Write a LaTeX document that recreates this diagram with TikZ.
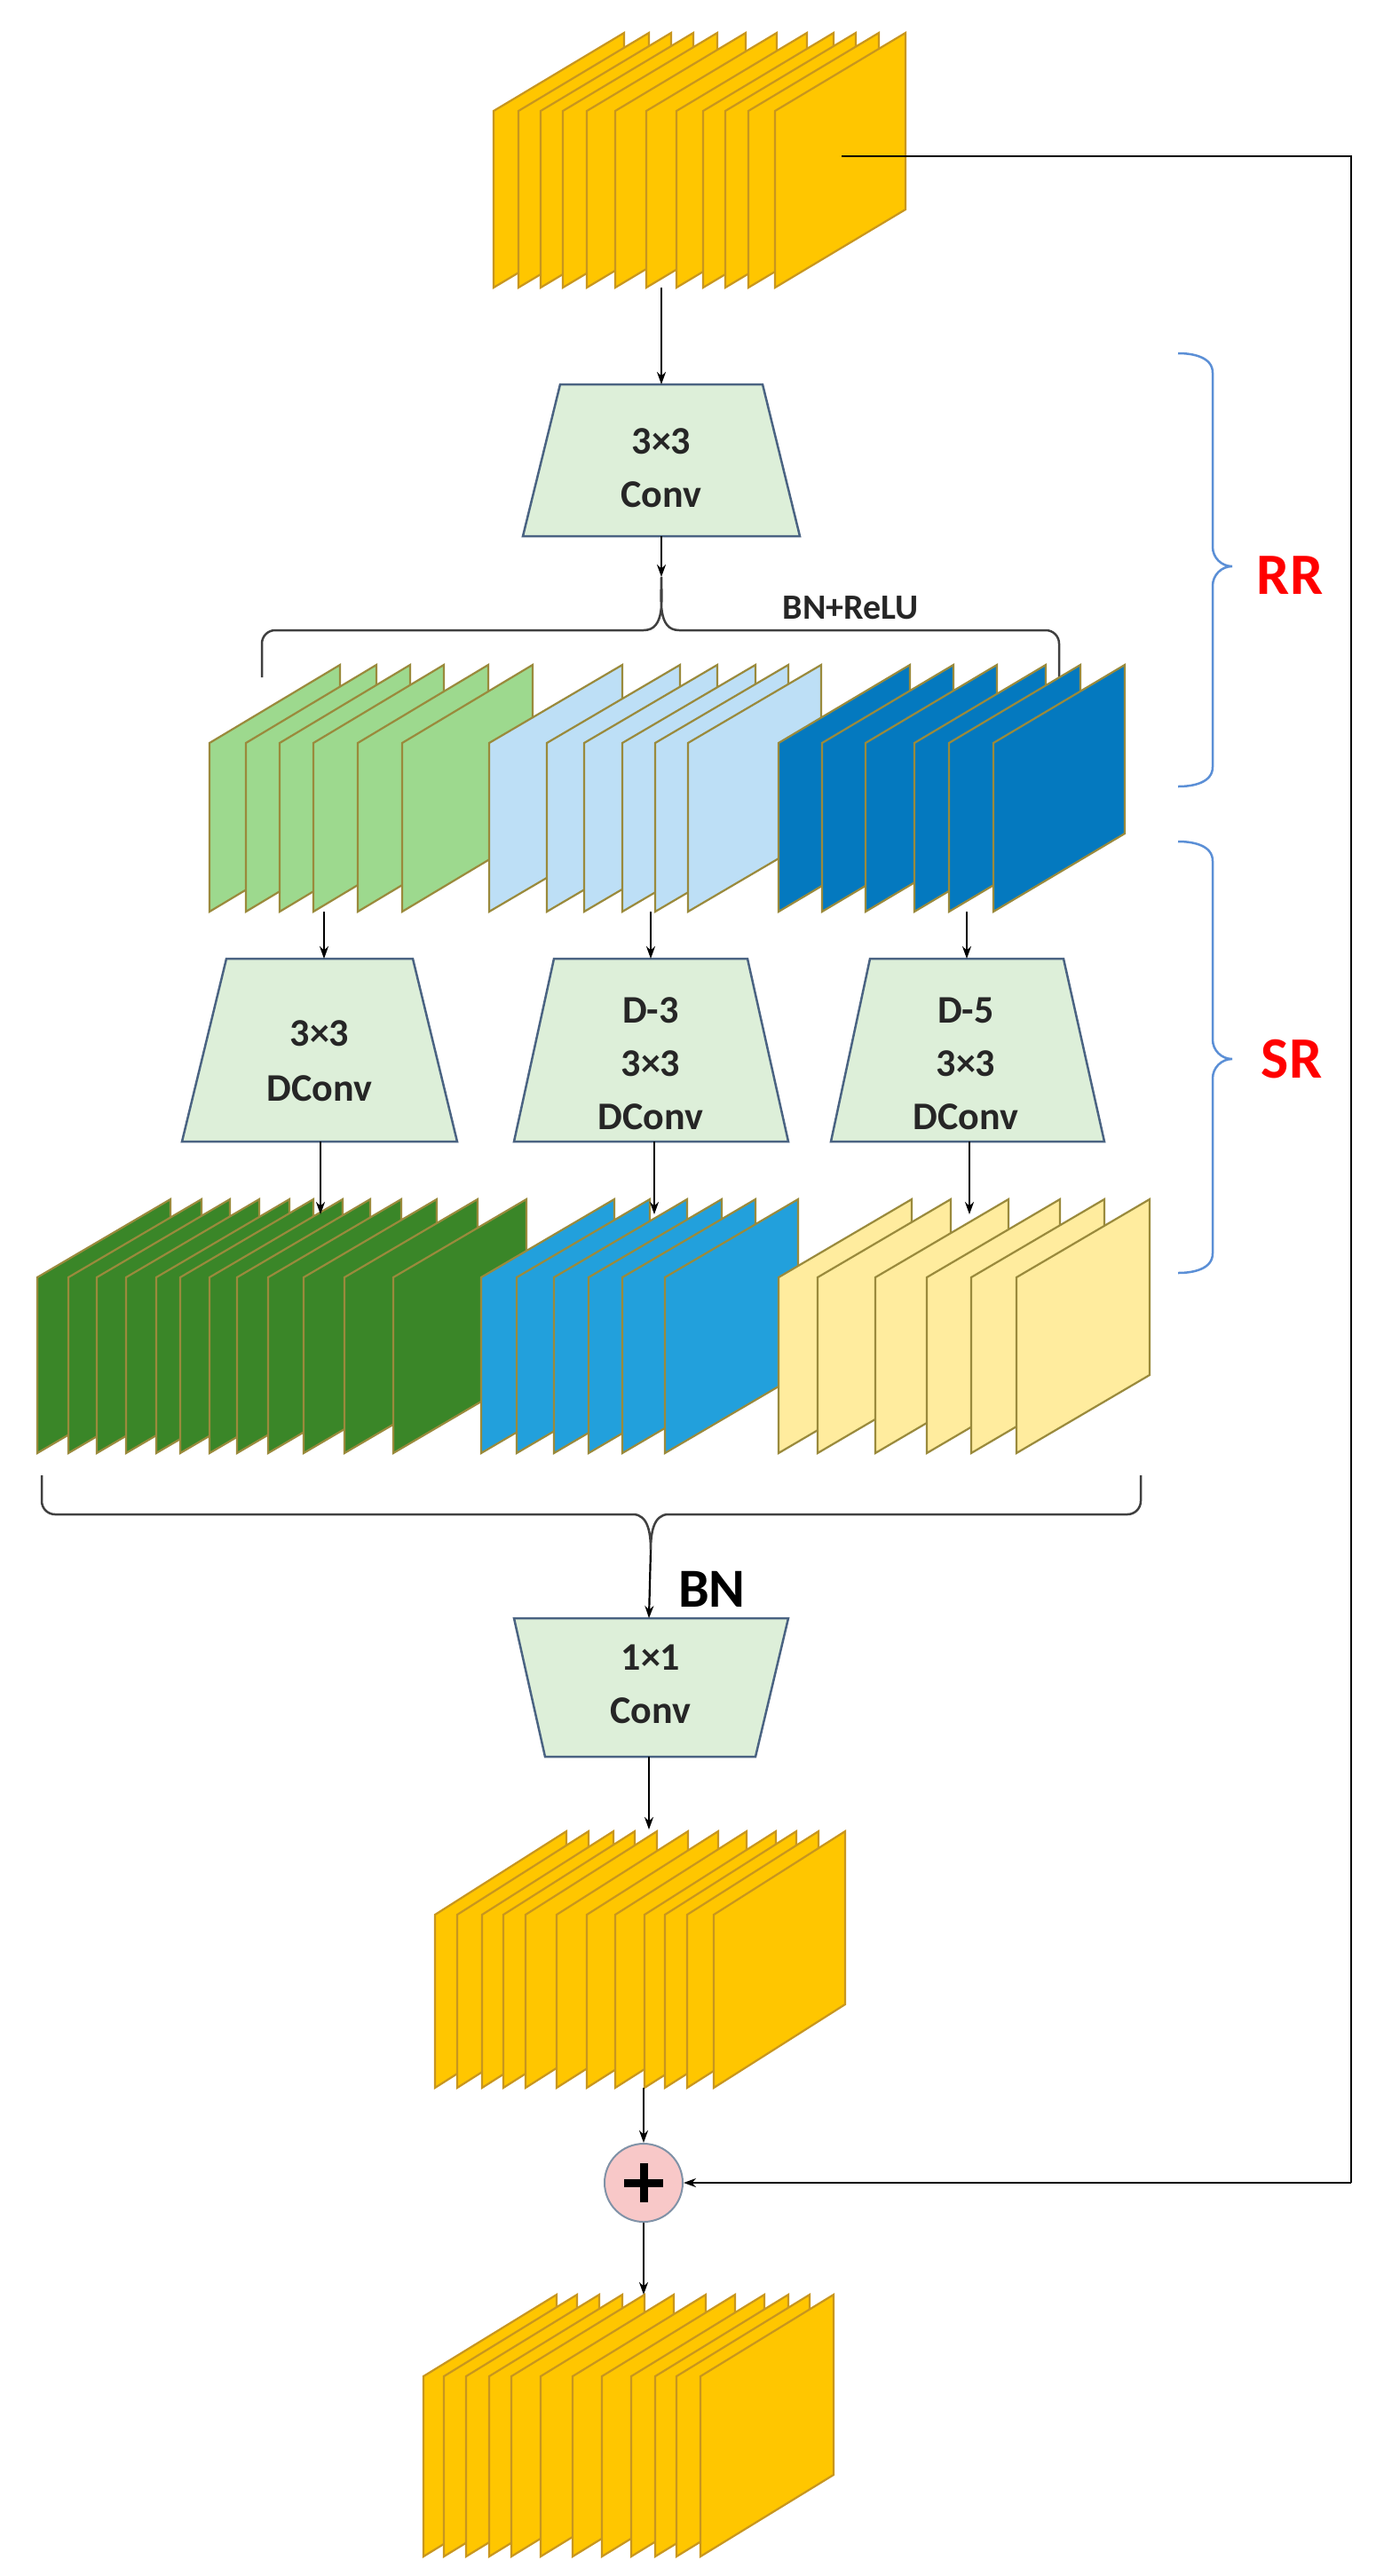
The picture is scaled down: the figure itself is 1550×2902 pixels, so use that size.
\documentclass[tikz,border=0pt]{standalone}
\usepackage{fontspec}
\setmainfont{Carlito}
\usetikzlibrary{arrows.meta,shapes.geometric,calc}
\definecolor{yel}{HTML}{FFC600}
\definecolor{yelS}{HTML}{C8961E}
\definecolor{lgreen}{HTML}{9DD98E}
\definecolor{lblue}{HTML}{BDDFF6}
\definecolor{dblue}{HTML}{0479BF}
\definecolor{dgreen}{HTML}{3A8628}
\definecolor{mblue}{HTML}{22A0DC}
\definecolor{lyel}{HTML}{FFEC9E}
\definecolor{olive}{HTML}{9A8A3C}
\definecolor{trapF}{HTML}{DDEFD9}
\definecolor{trapS}{HTML}{4A6382}
\definecolor{braceB}{HTML}{5B8FD6}
\definecolor{pinkF}{HTML}{F8C8C8}
\tikzset{
  slab/.style={line width=2.2pt, line join=miter},
  trap/.style={fill=trapF, draw=trapS, line width=2.5pt},
  conn/.style={line width=2.2pt, -{Stealth[length=14pt,width=10pt]}},
  bracepath/.style={line width=2.5pt, draw=black!75},
  lbl/.style={font=\fontsize{44}{50}\selectfont\bfseries, text=black!85},
}
% \stackof{fill}{stroke}{xlist}{dx}{ytop}{ybot}{rise}
\newcommand{\stackof}[7]{%
  \foreach \xx in {#3}{%
    \fill[#1] (\xx,#6) -- (\xx,#5) -- (\xx+#4,#5-#7) -- (\xx+#4,#6-#7) -- cycle;
    \draw[slab,#2] (\xx,#6) -- (\xx,#5) -- (\xx+#4,#5-#7) -- (\xx+#4,#6-#7) -- cycle;
  }}
\begin{document}
\begin{tikzpicture}[x=1pt,y=-1pt]
\useasboundingbox[fill=white] (0,0) rectangle (1550,2902);

% top stack
\stackof{yel}{yelS}{556,584,609,634,661,693,728,762,792,817,843,873}{147}{125}{324}{88}
\coordinate (topout) at (745,324);
\coordinate (skipstart) at (948,176);

% conv 3x3
\draw[trap] (631,433) -- (859,433) -- (901,604) -- (589,604) -- cycle;
\coordinate (conv1top) at (745,433);
\coordinate (conv1bot) at (745,604);
\node[lbl] (c1a) at (745,497) {3×3};
\node[lbl] (c1b) at (745,557) {Conv};
\draw[conn] (topout) -- (conv1top);

% BN+ReLU brace
\coordinate (tipA) at (745,650);
\draw[bracepath] (295,763) -- (295,725) to[out=90,in=180] (310,710) -- (725,710) to[out=0,in=-90] (tipA)
  to[out=-90,in=180] (765,710) -- (1178,710) to[out=0,in=90] (1193,725) -- (1193,763);
\draw[conn] (conv1bot) -- (tipA);
\node[font=\fontsize{40}{46}\selectfont\bfseries, text=black!85] (bnrelu) at (958,685) {BN+ReLU};

% row 1
\stackof{lgreen}{olive}{236,277,315,353,403,453}{147}{837}{1027}{88}
\stackof{lblue}{olive}{551,616,658,701,738,775}{150}{837}{1027}{88}
\stackof{dblue}{olive}{877,926,975,1030,1069,1119}{148}{837}{1027}{88}
\coordinate (r1a) at (365,1027);
\coordinate (r1b) at (733,1027);
\coordinate (r1c) at (1089,1027);

% row 2 trapezoids
\draw[trap] (255,1080) -- (465,1080) -- (515,1286) -- (205,1286) -- cycle;
\draw[trap] (624,1080) -- (842,1080) -- (888,1286) -- (579,1286) -- cycle;
\draw[trap] (980,1080) -- (1198,1080) -- (1244,1286) -- (936,1286) -- cycle;
\coordinate (t2a) at (365,1080);
\coordinate (t2b) at (733,1080);
\coordinate (t2c) at (1089,1080);
\draw[conn] (r1a) -- (t2a);
\draw[conn] (r1b) -- (t2b);
\draw[conn] (r1c) -- (t2c);
\node[lbl] (d1a) at (360,1164) {3×3};
\node[lbl] (d1b) at (360,1226) {DConv};
\node[lbl] (d2a) at (733,1138) {D-3};
\node[lbl] (d2b) at (733,1198) {3×3};
\node[lbl] (d2c) at (733,1258) {DConv};
\node[lbl] (d3a) at (1088,1138) {D-5};
\node[lbl] (d3b) at (1088,1198) {3×3};
\node[lbl] (d3c) at (1088,1258) {DConv};

% row 3
\stackof{dgreen}{olive}{42,77,109,142,176,203,236,267,302,342,388,443}{150}{1439}{1637}{88}
\stackof{mblue}{olive}{542,582,624,663,701,749}{150}{1439}{1637}{88}
\stackof{lyel}{olive}{877,921,986,1044,1094,1145}{150}{1439}{1637}{88}
\draw[conn] (361,1286) -- (361,1368);
\draw[conn] (737,1286) -- (737,1368);
\draw[conn] (1092,1286) -- (1092,1368);

% bottom brace
\coordinate (tipB) at (733,1746);
\draw[bracepath] (47,1662) -- (47,1691) to[out=-90,in=180] (62,1706) -- (713,1706) to[out=0,in=90] (tipB)
  to[out=90,in=180] (753,1706) -- (1270,1706) to[out=0,in=-90] (1285,1691) -- (1285,1662);
\node[font=\fontsize{62}{70}\selectfont\bfseries] (bn) at (802,1790) {BN};

% 1x1 conv
\draw[trap] (579,1823) -- (888,1823) -- (851,1979) -- (614,1979) -- cycle;
\coordinate (c3top) at (731,1823);
\coordinate (c3bot) at (731,1979);
\draw[conn] (tipB) -- (c3top);
\node[lbl] (e1) at (733,1867) {1×1};
\node[lbl] (e2) at (733,1927) {Conv};

% stack 4
\stackof{yel}{yelS}{490,515,543,567,592,627,661,693,726,749,774,804}{148}{2157}{2352}{94}
\draw[conn] (c3bot) -- (731,2061);

% plus
\node[circle, draw=trapS!70, fill=pinkF, line width=2pt, minimum size=88pt, inner sep=0pt] (plus) at (725,2459) {};
\draw[line width=9pt] ($(plus.center)+(-22,0)$) -- ($(plus.center)+(22,0)$);
\draw[line width=9pt] ($(plus.center)+(0,-22)$) -- ($(plus.center)+(0,22)$);
\draw[conn] (725,2352) -- (plus.north);

% skip
\coordinate (skipc) at (1522,176);
\coordinate (skipd) at (1522,2459);
\draw[line width=2.5pt] (skipstart) -- (skipc) -- (skipd);
\draw[conn] (skipd) -- (plus.east);

% stack 5
\stackof{yel}{yelS}{477,500,525,551,576,609,645,678,711,738,762,789}{150}{2677}{2880}{92}
\draw[conn] (plus.south) -- (725,2585);

% RR / SR braces
\draw[braceB, line width=2.5pt] (1327,398) to[out=0,in=90] (1366,420) -- (1366,616) to[out=-90,in=180] (1388,638)
  to[out=180,in=90] (1366,660) -- (1366,864) to[out=-90,in=0] (1327,886);
\node[text=red, font=\fontsize{66}{72}\selectfont\bfseries] (rr) at (1453,648) {RR};
\draw[braceB, line width=2.5pt] (1327,948) to[out=0,in=90] (1366,970) -- (1366,1171) to[out=-90,in=180] (1388,1193)
  to[out=180,in=90] (1366,1215) -- (1366,1412) to[out=-90,in=0] (1327,1434);
\node[text=red, font=\fontsize{66}{72}\selectfont\bfseries] (sr) at (1455,1193) {SR};
\end{tikzpicture}
\end{document}
